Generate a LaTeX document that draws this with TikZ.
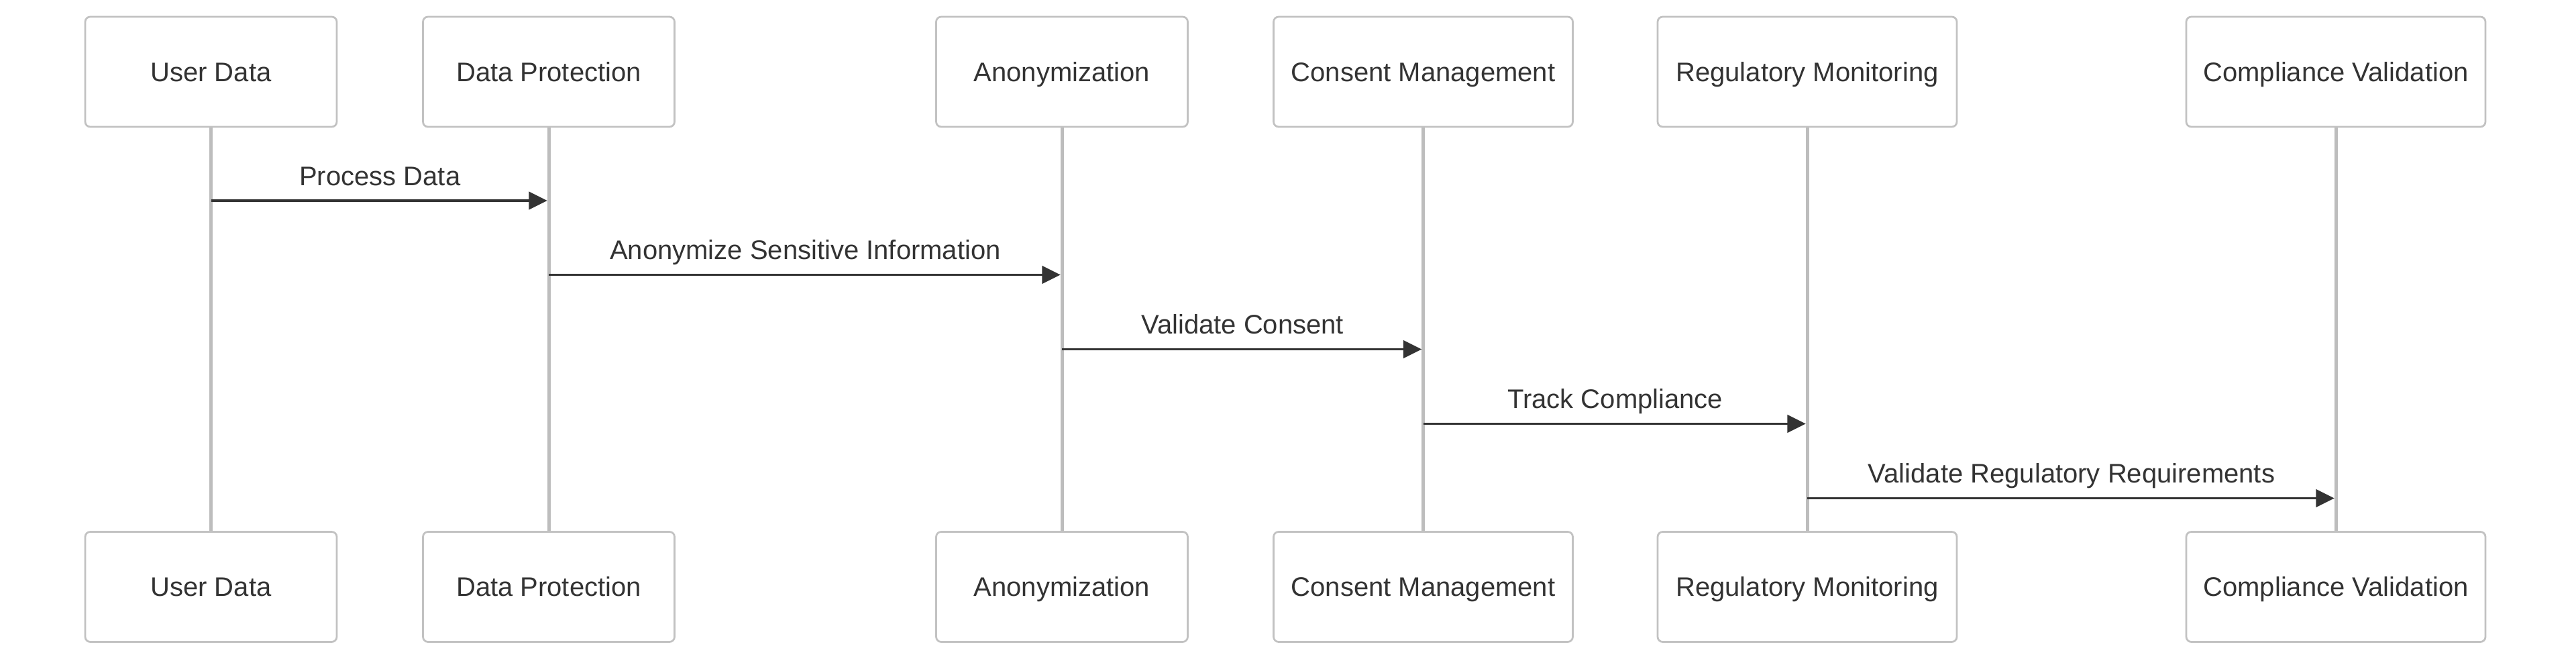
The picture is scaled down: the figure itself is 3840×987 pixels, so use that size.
\documentclass[tikz,border=0pt]{standalone}
\usepackage{fontspec}
\setmainfont{Liberation Sans}
\usetikzlibrary{arrows.meta}

\definecolor{actorgray}{HTML}{C2C2C2}
\definecolor{lifegray}{HTML}{BDBDBD}
\definecolor{inkgray}{HTML}{333333}

\begin{document}
\begin{tikzpicture}[x=0.4pt, y=-0.4pt,
	actor/.style={draw=actorgray, line width=1.1pt, fill=white, rectangle, rounded corners=3pt,
		minimum height=65.6pt, minimum width=150pt, inner sep=0pt, text centered, text=inkgray,
		font=\fontsize{16pt}{19pt}\selectfont, text height=11.5pt, text depth=0pt},
	wideactor/.style={actor, minimum width=178.4pt},
	lifeline/.style={draw=lifegray, line width=2pt},
	message/.style={draw=inkgray, line width=1.5pt, -{Triangle[length=11pt,width=10.5pt]}, shorten >=0.9pt},
	msglabel/.style={text=inkgray, font=\fontsize{16pt}{19pt}\selectfont, anchor=base, inner sep=0pt, yshift=9.2pt}]
	
	\useasboundingbox (0,0) rectangle (3840,987);
	
	%Actors (top)
	\node (userDataTop) at (314.5,107) [actor]{User Data};
	\node (dataProtTop) at (818,107) [actor]{Data Protection};
	\node (anonymTop) at (1583,107) [actor]{Anonymization};
	\node (consentTop) at (2121.5,107) [wideactor]{Consent Management};
	\node (regMonTop) at (2694,107) [wideactor]{Regulatory Monitoring};
	\node (complValTop) at (3482,107) [wideactor]{Compliance Validation};
	
	%Actors (bottom)
	\node (userDataBot) at (314.5,874.5) [actor]{User Data};
	\node (dataProtBot) at (818,874.5) [actor]{Data Protection};
	\node (anonymBot) at (1583,874.5) [actor]{Anonymization};
	\node (consentBot) at (2121.5,874.5) [wideactor]{Consent Management};
	\node (regMonBot) at (2694,874.5) [wideactor]{Regulatory Monitoring};
	\node (complValBot) at (3482,874.5) [wideactor]{Compliance Validation};
	
	%Lifelines
	\draw[lifeline] (userDataTop.south) -- (userDataBot.north);
	\draw[lifeline] (dataProtTop.south) -- (dataProtBot.north);
	\draw[lifeline] (anonymTop.south) -- (anonymBot.north);
	\draw[lifeline] (consentTop.south) -- (consentBot.north);
	\draw[lifeline] (regMonTop.south) -- (regMonBot.north);
	\draw[lifeline] (complValTop.south) -- (complValBot.north);
	
	%Message rows
	\coordinate (msgA) at (0,299);
	\coordinate (msgB) at (0,409.5);
	\coordinate (msgC) at (0,520.5);
	\coordinate (msgD) at (0,631.5);
	\coordinate (msgE) at (0,742.5);
	
	%Messages
	\draw[message] (userDataTop |- msgA) -- (dataProtTop |- msgA) node[msglabel, midway]{Process Data};
	\draw[message] (dataProtTop |- msgB) -- (anonymTop |- msgB) node[msglabel, midway]{Anonymize Sensitive Information};
	\draw[message] (anonymTop |- msgC) -- (consentTop |- msgC) node[msglabel, midway]{Validate Consent};
	\draw[message] (consentTop |- msgD) -- (regMonTop |- msgD) node[msglabel, midway]{Track Compliance};
	\draw[message] (regMonTop |- msgE) -- (complValTop |- msgE) node[msglabel, midway]{Validate Regulatory Requirements};
	
\end{tikzpicture}
\end{document}
